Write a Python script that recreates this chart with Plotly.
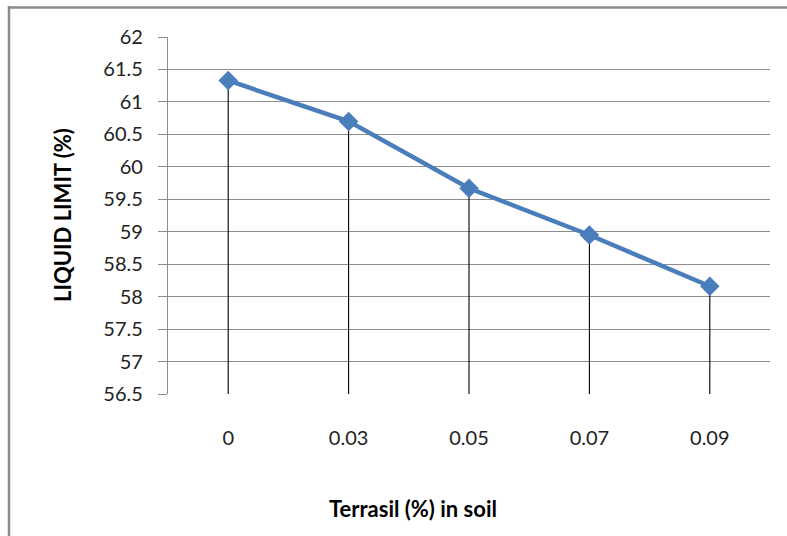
import plotly.graph_objects as go

categories = ["0", "0.03", "0.05", "0.07", "0.09"]
liquid_limit = [61.33, 60.70, 59.67, 58.95, 58.16]
y_min = 56.5
y_max = 62
y_step = 0.5

W, H = 787, 536
L, R, T, B = 168, 17, 37, 142

fig = go.Figure()

drops = [v - y_min for v in liquid_limit]
fig.add_trace(go.Scatter(
    x=categories, y=liquid_limit, mode="markers",
    marker=dict(size=1, color="rgba(0,0,0,0)"),
    error_y=dict(type="data", symmetric=False, array=[0]*len(liquid_limit),
                 arrayminus=drops, color="black", thickness=1.1, width=0),
    showlegend=False, hoverinfo="skip"))

fig.add_trace(go.Scatter(
    x=categories, y=liquid_limit, mode="lines+markers",
    line=dict(color="#4a7ebb", width=4.5),
    marker=dict(symbol="diamond", size=15, color="#4a7ebb"),
    showlegend=False))

def px_to_paper_x(px):
    return (px - L) / (W - L - R)

def px_to_paper_y(py):
    return (H - B - py) / (H - T - B)

border = dict(color="#8c8c8c", width=2.5)
fig.add_shape(type="line", xref="paper", yref="paper",
              x0=px_to_paper_x(9), x1=px_to_paper_x(9),
              y0=px_to_paper_y(H + 5), y1=px_to_paper_y(6), line=border)
fig.add_shape(type="line", xref="paper", yref="paper",
              x0=px_to_paper_x(8), x1=px_to_paper_x(W + 5),
              y0=px_to_paper_y(7.5), y1=px_to_paper_y(7.5), line=border)

fig.add_annotation(text="<b>Terrasil (%) in soil</b>", xref="paper", yref="paper",
                   x=px_to_paper_x(413), y=px_to_paper_y(508),
                   xanchor="center", yanchor="middle", showarrow=False,
                   font=dict(family="Lato", size=22, color="#000000"))

fig.add_annotation(text="<b>LIQUID LIMIT (%)</b>", xref="paper", yref="paper",
                   x=px_to_paper_x(62), y=px_to_paper_y(215),
                   xanchor="center", yanchor="middle", showarrow=False, textangle=-90,
                   font=dict(family="Lato", size=22, color="#000000"))

fig.update_layout(
    width=W, height=H,
    margin=dict(l=L, r=R, t=T, b=B),
    paper_bgcolor="white", plot_bgcolor="white",
    font=dict(family="Lato, Open Sans, sans-serif", size=20, color="#222222"),
    xaxis=dict(type="category", range=[-0.5, 4.5], showgrid=False,
               showline=False, zeroline=False,
               ticks="outside", ticklen=26, tickcolor="rgba(0,0,0,0)",
               tickfont=dict(size=20, color="#222222")),
    yaxis=dict(range=[y_min, y_max], dtick=y_step, tick0=y_min,
               showgrid=True, gridcolor="#8c8c8c", gridwidth=1.2,
               showline=True, linecolor="#8c8c8c", linewidth=1.2,
               zeroline=False, ticks="outside", ticklen=9, tickcolor="#8c8c8c",
               ticklabelstandoff=11,
               tickfont=dict(size=20, color="#222222")),
)

fig.write_html("out.html", config={"displayModeBar": False},
               post_script="document.body.style.margin='0px';")
